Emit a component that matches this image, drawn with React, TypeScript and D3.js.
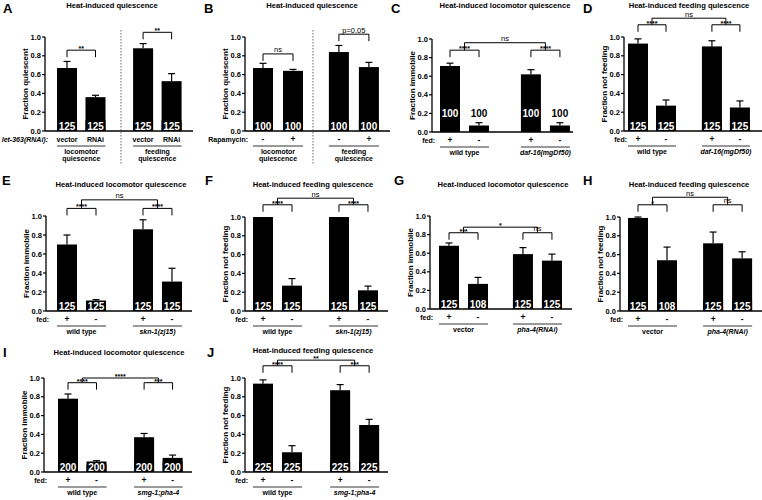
import React from "react";
import * as d3 from "d3";

const panelLetters = ["A", "B", "C", "D", "E", "F", "G", "H", "I", "J"];
const panelTitles = [
  "Heat-induced quiescence",
  "Heat-induced quiescence",
  "Heat-induced locomotor quiescence",
  "Heat-induced feeding quiescence",
  "Heat-induced locomotor quiescence",
  "Heat-induced feeding quiescence",
  "Heat-induced locomotor quiescence",
  "Heat-induced feeding quiescence",
  "Heat-induced locomotor quiescence",
  "Heat-induced feeding quiescence",
];
const yAxisTitles = [
  "Fraction quiescent",
  "Fraction quiescent",
  "Fraction immobile",
  "Fraction not feeding",
  "Fraction immobile",
  "Fraction not feeding",
  "Fraction immobile",
  "Fraction not feeding",
  "Fraction immobile",
  "Fraction not feeding",
];
const rowLabels = ["let-363(RNAi):", "Rapamycin:", "fed:", "fed:", "fed:", "fed:", "fed:", "fed:", "fed:", "fed:"];
const barLabels = [
  ["vector", "RNAi", "vector", "RNAi"],
  ["-", "+", "-", "+"],
  ["+", "-", "+", "-"],
  ["+", "-", "+", "-"],
  ["+", "-", "+", "-"],
  ["+", "-", "+", "-"],
  ["+", "-", "+", "-"],
  ["+", "-", "+", "-"],
  ["+", "-", "+", "-"],
  ["+", "-", "+", "-"],
];
const groupLabels = [
  [["locomotor", "quiescence"], ["feeding", "quiescence"]],
  [["locomotor", "quiescence"], ["feeding", "quiescence"]],
  [["wild type"], ["daf-16(mgDf50)"]],
  [["wild type"], ["daf-16(mgDf50)"]],
  [["wild type"], ["skn-1(zj15)"]],
  [["wild type"], ["skn-1(zj15)"]],
  [["vector"], ["pha-4(RNAi)"]],
  [["vector"], ["pha-4(RNAi)"]],
  [["wild type"], ["smg-1;pha-4"]],
  [["wild type"], ["smg-1;pha-4"]],
];
const means = [
  [0.67, 0.36, 0.88, 0.53],
  [0.67, 0.64, 0.84, 0.68],
  [0.71, 0.07, 0.62, 0.07],
  [0.93, 0.27, 0.9, 0.25],
  [0.7, 0.09, 0.86, 0.31],
  [1.0, 0.27, 1.0, 0.22],
  [0.68, 0.27, 0.59, 0.52],
  [0.99, 0.54, 0.72, 0.56],
  [0.78, 0.08, 0.37, 0.15],
  [0.94, 0.21, 0.87, 0.5],
];
const sems = [
  [0.07, 0.02, 0.05, 0.08],
  [0.05, 0.015, 0.07, 0.05],
  [0.03, 0.03, 0.05, 0.03],
  [0.05, 0.06, 0.06, 0.07],
  [0.1, 0.03, 0.1, 0.14],
  [0, 0.075, 0, 0.045],
  [0.03, 0.07, 0.07, 0.07],
  [0.01, 0.14, 0.12, 0.07],
  [0.05, 0.04, 0.04, 0.03],
  [0.04, 0.07, 0.06, 0.06],
];
const counts = [
  [125, 125, 125, 125],
  [100, 100, 100, 100],
  [100, 100, 100, 100],
  [125, 125, 125, 125],
  [125, 125, 125, 125],
  [125, 125, 125, 125],
  [125, 108, 125, 125],
  [125, 108, 125, 125],
  [200, 200, 200, 200],
  [225, 225, 225, 225],
];
const sigFirstPair = ["**", "ns", "****", "****", "****", "****", "***", "*", "****", "****"];
const sigSecondPair = ["**", "p=0.05", "****", "****", "****", "****", "ns", "ns", "***", "***"];
const sigBetweenGroups = [null, null, "ns", "ns", "ns", "ns", "*", "ns", "****", "**"];
const yTicks = [0, 0.2, 0.4, 0.6, 0.8, 1.0];

// layout (pixel positions / styles), separate from data
const layout = [
  { ax: 45, axEnd: 193, yT: 37, yB: 131, c1: 67, step: 28.5, g: 2.67, lx: 3, ly: 13, tx: 112, ty: 8, b1: 0.86, b2: 1.05, bb: null, divider: 121, mode: "bottom", rowItalic: true, grpItalic: [false, false] },
  { ax: 245, axEnd: 390, yT: 37, yB: 131, c1: 263, step: 30, g: 2.53, lx: 204, ly: 13, tx: 312, ty: 8, b1: 0.82, b2: 1.03, bb: null, divider: 313, mode: "bottom", rowItalic: false, grpItalic: [false, false] },
  { ax: 432, axEnd: 573, yT: 39, yB: 132, c1: 450, step: 29, g: 2.79, lx: 391, ly: 13, tx: 505, ty: 8, b1: 0.88, b2: 0.88, bb: 0.96, divider: null, mode: "mid", rowItalic: false, grpItalic: [false, true] },
  { ax: 624, axEnd: 762, yT: 37, yB: 131, c1: 638, step: 28, g: 2.64, lx: 583, ly: 13, tx: 689, ty: 8, b1: 1.13, b2: 1.13, bb: 1.2, divider: null, mode: "bottom", rowItalic: false, grpItalic: [false, true] },
  { ax: 46, axEnd: 192, yT: 216, yB: 311, c1: 67, step: 29, g: 2.62, lx: 2, ly: 185, tx: 121, ty: 187, b1: 1.08, b2: 1.08, bb: 1.17, divider: null, mode: "bottom", rowItalic: false, grpItalic: [false, true] },
  { ax: 245, axEnd: 388, yT: 217, yB: 311, c1: 263, step: 29, g: 2.62, lx: 205, ly: 185, tx: 313, ty: 187, b1: 1.13, b2: 1.13, bb: 1.2, divider: null, mode: "bottom", rowItalic: false, grpItalic: [false, true] },
  { ax: 430, axEnd: 572, yT: 216, yB: 309, c1: 449, step: 29, g: 2.55, lx: 394, ly: 185, tx: 503, ty: 187, b1: 0.82, b2: 0.82, bb: 0.88, divider: null, mode: "bottom", rowItalic: false, grpItalic: [false, true] },
  { ax: 620, axEnd: 762, yT: 217, yB: 311, c1: 638, step: 29, g: 2.59, lx: 583, ly: 185, tx: 689, ty: 187, b1: 1.13, b2: 1.13, bb: 1.21, divider: null, mode: "bottom", rowItalic: false, grpItalic: [false, true] },
  { ax: 44, axEnd: 192, yT: 378, yB: 472, c1: 68, step: 28.5, g: 2.67, lx: 3, ly: 357, tx: 119, ty: 355, b1: 0.95, b2: 0.95, bb: 1.0, divider: null, mode: "bottom", rowItalic: false, grpItalic: [false, true] },
  { ax: 245, axEnd: 388, yT: 378, yB: 472, c1: 263, step: 29, g: 2.66, lx: 207, ly: 357, tx: 313, ty: 353, b1: 1.13, b2: 1.13, bb: 1.19, divider: null, mode: "bottom", rowItalic: false, grpItalic: [false, true] },
];

const FONT = "Liberation Sans, Arial, Helvetica, sans-serif";
const BW = 20;
const LEG = 7;

function sigText(label: string, cx: number, yLine: number, key: string) {
  const isStar = label.indexOf("*") >= 0;
  return (
    <text
      key={key}
      x={cx}
      y={isStar ? yLine + 1 : yLine - 1.5}
      textAnchor="middle"
      fontSize={isStar ? 7 : 7.5}
      fontWeight={isStar ? "bold" : "normal"}
      fill="#000"
    >
      {label}
    </text>
  );
}

function Panel({ i }: { i: number }) {
  const L: any = layout[i];
  const y = d3.scaleLinear().domain([0, 1]).range([L.yB, L.yT]);
  const x = d3.scaleLinear().domain([0, 1]).range([L.c1, L.c1 + L.step]);
  const slots = [0, 1, L.g, L.g + 1];
  const m = means[i];
  const s = sems[i];
  const n = counts[i];
  const line = d3.line();

  const xa0 = x(slots[0]), xa1 = x(slots[1]), xb0 = x(slots[2]), xb1 = x(slots[3]);
  const y1 = y(L.b1), y2 = y(L.b2);
  const elems: any[] = [];

  elems.push(
    <path key="br1" d={line([[xa0, y1 + LEG], [xa0, y1], [xa1, y1], [xa1, y1 + LEG]]) as string} fill="none" stroke="#000" strokeWidth={1} />
  );
  elems.push(sigText(sigFirstPair[i], (xa0 + xa1) / 2, y1, "s1"));
  elems.push(
    <path key="br2" d={line([[xb0, y2 + LEG], [xb0, y2], [xb1, y2], [xb1, y2 + LEG]]) as string} fill="none" stroke="#000" strokeWidth={1} />
  );
  elems.push(sigText(sigSecondPair[i], (xb0 + xb1) / 2, y2, "s2"));
  const between = sigBetweenGroups[i];
  if (between && L.bb != null) {
    const yb = y(L.bb);
    const ma = (xa0 + xa1) / 2, mb = (xb0 + xb1) / 2;
    elems.push(
      <path key="bb" d={line([[ma, y1], [ma, yb], [mb, yb], [mb, y2]]) as string} fill="none" stroke="#000" strokeWidth={1} />
    );
    elems.push(sigText(between, (ma + mb) / 2, yb, "sb"));
  }

  return (
    <g fontFamily={FONT}>
      <text x={L.lx} y={L.ly} fontSize={13} fontWeight="bold">{panelLetters[i]}</text>
      <text x={L.tx} y={L.ty} fontSize={7.6} fontWeight="bold" textAnchor="middle">{panelTitles[i]}</text>

      <line x1={L.ax} x2={L.ax} y1={L.yB} y2={L.yT} stroke="#000" strokeWidth={1.3} />
      {yTicks.map((t) => (
        <g key={t}>
          <line x1={L.ax - 3} x2={L.ax} y1={y(t)} y2={y(t)} stroke="#000" strokeWidth={1.2} />
          <text x={L.ax - 4} y={y(t)} dy="0.35em" textAnchor="end" fontSize={7.5} fontWeight="bold">
            {d3.format(".1f")(t)}
          </text>
        </g>
      ))}
      <text
        transform={`translate(${L.ax - 17},${(L.yB + L.yT) / 2}) rotate(-90)`}
        textAnchor="middle"
        fontSize={8}
        fontWeight="bold"
      >
        {yAxisTitles[i]}
      </text>

      {m.map((v, k) => {
        const cx = x(slots[k]);
        return (
          <rect key={"b" + k} x={cx - BW / 2} y={y(v)} width={BW} height={L.yB - y(v)} fill="#000" />
        );
      })}
      {L.mode !== "mid" &&
        m.map((v, k) => {
          const cx = x(slots[k]);
          return <rect key={"nb" + k} x={cx - BW / 2} y={L.yB - 10.5} width={BW} height={10.5} fill="#000" />;
        })}
      {m.map((v, k) => {
        if (!s[k]) return null;
        const cx = x(slots[k]);
        const top = y(v + s[k]);
        return (
          <g key={"e" + k}>
            <line x1={cx} x2={cx} y1={y(v)} y2={top} stroke="#000" strokeWidth={1.2} />
            <line x1={cx - 3.5} x2={cx + 3.5} y1={top} y2={top} stroke="#000" strokeWidth={1.2} />
          </g>
        );
      })}
      {m.map((v, k) => {
        const cx = x(slots[k]);
        if (L.mode === "mid") {
          const base = y(0.16);
          const inside = y(v) < base - 9;
          return (
            <text key={"n" + k} x={cx} y={base} textAnchor="middle" fontSize={10} fontWeight="bold" fill={inside ? "#fff" : "#000"}>
              {n[k]}
            </text>
          );
        }
        return (
          <text key={"n" + k} x={cx} y={L.yB - 1.5} textAnchor="middle" fontSize={10} fontWeight="bold" fill="#fff">
            {n[k]}
          </text>
        );
      })}

      <line x1={L.ax} x2={L.axEnd} y1={L.yB} y2={L.yB} stroke="#000" strokeWidth={1.3} />

      {elems}

      <text x={L.ax + 3} y={L.yB + 11} textAnchor="end" fontSize={7} fontWeight="bold" fontStyle={L.rowItalic ? "italic" : "normal"}>
        {rowLabels[i]}
      </text>
      {barLabels[i].map((lab, k) => (
        <text key={"t" + k} x={x(slots[k])} y={L.yB + 11} textAnchor="middle" fontSize={lab.length > 1 ? 7 : 8.5} fontWeight="bold">
          {lab}
        </text>
      ))}
      {[0, 1].map((gi) => {
        const left = x(slots[gi * 2]) - BW / 2;
        const right = x(slots[gi * 2 + 1]) + BW / 2;
        return (
          <g key={"g" + gi}>
            <line x1={left} x2={right} y1={L.yB + 15} y2={L.yB + 15} stroke="#000" strokeWidth={0.8} />
            {groupLabels[i][gi].map((t, li) => (
              <text
                key={li}
                x={(left + right) / 2}
                y={L.yB + 23 + li * 7}
                textAnchor="middle"
                fontSize={7}
                fontWeight="bold"
                fontStyle={L.grpItalic[gi] ? "italic" : "normal"}
              >
                {t}
              </text>
            ))}
          </g>
        );
      })}

      {L.divider != null && (
        <line x1={L.divider} x2={L.divider} y1={30} y2={165} stroke="#444" strokeWidth={0.8} strokeDasharray="1.5,1.5" />
      )}
    </g>
  );
}

export default function App() {
  return (
    <svg
      width={762}
      height={500}
      style={{ position: "absolute", left: 0, top: 0, background: "#fff", display: "block" }}
    >
      <rect width={762} height={500} fill="#fff" />
      {panelLetters.map((_, i) => (
        <Panel key={i} i={i} />
      ))}
    </svg>
  );
}
